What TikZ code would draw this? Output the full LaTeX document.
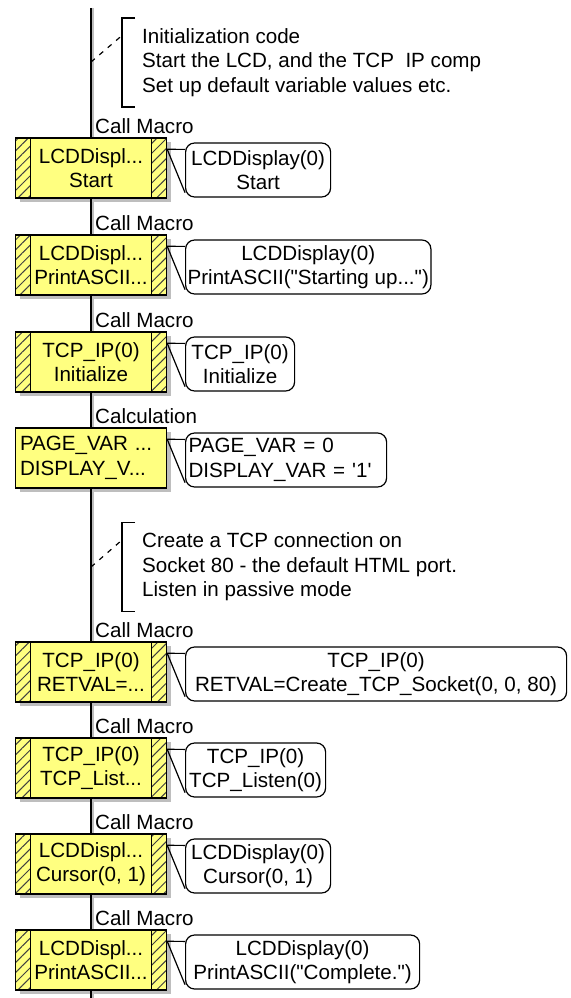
\documentclass[tikz,border=0pt]{standalone}
\usepackage{fontspec}
\setmainfont{Liberation Sans}
\usepackage{tikz}
\usetikzlibrary{patterns.meta,shadows}
\definecolor{boxyellow}{RGB}{255,255,128}
\definecolor{shadowgray}{RGB}{190,190,190}

\begin{document}
\begin{tikzpicture}[x=1pt,y=-1pt,font=\fontsize{20.6}{24.5}\selectfont]
 \tikzset{block/.style = {shape=rectangle,draw,line width=1.4pt,fill=boxyellow,minimum width=151pt,minimum height=60pt,inner sep=0pt,align=center,drop shadow={shadow xshift=4pt,shadow yshift=-4pt,fill=shadowgray,opacity=1}}}
 \tikzset{hatch/.style = {pattern={Lines[angle=45,distance=7pt,line width=1pt]},pattern color=black!75}}
 \tikzset{macro/.style = {block,path picture={
   \fill[hatch] (path picture bounding box.north west) rectangle ([xshift=15pt]path picture bounding box.south west);
   \fill[hatch] (path picture bounding box.north east) rectangle ([xshift=-15pt]path picture bounding box.south east);
   \draw[line width=1.2pt] ([xshift=15pt]path picture bounding box.north west) -- ([xshift=15pt]path picture bounding box.south west);
   \draw[line width=1.2pt] ([xshift=-15pt]path picture bounding box.north east) -- ([xshift=-15pt]path picture bounding box.south east);}}}
 \tikzset{calc/.style = {block,align=left,text width=142pt,inner xsep=4.5pt}}
 \tikzset{bubble/.style = {shape=rectangle,draw,rounded corners=9pt,line width=1.2pt,minimum height=54pt,inner xsep=2pt,align=center,anchor=west}}
 \tikzset{kind/.style = {anchor=west,inner sep=0pt}}
 \tikzset{note/.style = {anchor=west,inner sep=0pt,align=left}}
 \tikzset{flow/.style = {line width=1.6pt,preaction={draw=shadowgray,line width=2pt,transform canvas={xshift=2pt}}}}
 \tikzset{tail/.style = {line width=1.2pt}}
 \tikzset{bracket/.style = {line width=1.2pt}}
 \tikzset{leader/.style = {line width=1.2pt,dash pattern=on 5pt off 6pt}}

 \useasboundingbox (0,0) rectangle (570,998);

 % comments
 \node[note] (n1) at (142,62.5) {Initialization code\\Start the LCD, and the TCP\ \ IP comp\\Set up default variable values etc.};
 \node[note] (n2) at (142,567) {Create a TCP connection on\\Socket 80 - the default HTML port.\\Listen in passive mode};

 % blocks
 \node[kind] (l1) at (95,126) {Call Macro};
 \node[macro] (b1) at (91,168) {LCDDispl...\\Start};
 \node[bubble,minimum width=145pt] (c1) at (185,170) {LCDDisplay(0)\\Start};

 \node[kind] (l2) at (95,223) {Call Macro};
 \node[macro] (b2) at (91,265) {LCDDispl...\\PrintASCII...};
 \node[bubble,minimum width=229pt] (c2) at (185,267) {LCDDisplay(0)\\PrintASCII(\textquotedbl Starting up...\textquotedbl)};

 \node[kind] (l3) at (95,320) {Call Macro};
 \node[macro] (b3) at (91,362) {TCP\_IP(0)\\Initialize};
 \node[bubble,minimum width=109pt] (c3) at (185,364) {TCP\_IP(0)\\Initialize};

 \node[kind] (l4) at (95,416) {Calculation};
 \node[calc] (b4) at (91,458) {PAGE\_VAR ...\\DISPLAY\_V...};
 \node[bubble,align=left,text width=195pt,inner xsep=3pt] (c4) at (185,460) {PAGE\_VAR = 0\\DISPLAY\_VAR = \textquotesingle 1\textquotesingle};

 \node[kind] (l5) at (95,630) {Call Macro};
 \node[macro] (b5) at (91,672) {TCP\_IP(0)\\RETVAL=...};
 \node[bubble,minimum width=381pt] (c5) at (185,674) {TCP\_IP(0)\\RETVAL=Create\_TCP\_Socket(0, 0, 80)};

 \node[kind] (l6) at (95,726) {Call Macro};
 \node[macro] (b6) at (91,768) {TCP\_IP(0)\\TCP\_List...};
 \node[bubble,minimum width=140pt] (c6) at (185,770) {TCP\_IP(0)\\TCP\_Listen(0)};

 \node[kind] (l7) at (95,822) {Call Macro};
 \node[macro] (b7) at (91,864) {LCDDispl...\\Cursor(0, 1)};
 \node[bubble,minimum width=145pt] (c7) at (185,866) {LCDDisplay(0)\\Cursor(0, 1)};

 \node[kind] (l8) at (95,918) {Call Macro};
 \node[macro] (b8) at (91,960) {LCDDispl...\\PrintASCII...};
 \node[bubble,minimum width=234pt] (c8) at (185,962) {LCDDisplay(0)\\PrintASCII(\textquotedbl Complete.\textquotedbl)};

 % flow line
 \coordinate (top) at (91,8);
 \coordinate (bottom) at (91,998);
 \draw[flow] (top) -- (b1.north);
 \draw[flow] (b1.south) -- (b2.north);
 \draw[flow] (b2.south) -- (b3.north);
 \draw[flow] (b3.south) -- (b4.north);
 \draw[flow] (b4.south) -- (b5.north);
 \draw[flow] (b5.south) -- (b6.north);
 \draw[flow] (b6.south) -- (b7.north);
 \draw[flow] (b7.south) -- (b8.north);
 \draw[flow] (b8.south) -- (bottom);

 % bubble tails
 \draw[tail] ([yshift=-7pt]c1.north west) -- ([yshift=-12pt]b1.north east) -- ([yshift=5pt]c1.south west);
 \draw[tail] ([yshift=-7pt]c2.north west) -- ([yshift=-12pt]b2.north east) -- ([yshift=5pt]c2.south west);
 \draw[tail] ([yshift=-7pt]c3.north west) -- ([yshift=-12pt]b3.north east) -- ([yshift=5pt]c3.south west);
 \draw[tail] ([yshift=-7pt]c4.north west) -- ([yshift=-12pt]b4.north east) -- ([yshift=5pt]c4.south west);
 \draw[tail] ([yshift=-7pt]c5.north west) -- ([yshift=-12pt]b5.north east) -- ([yshift=5pt]c5.south west);
 \draw[tail] ([yshift=-7pt]c6.north west) -- ([yshift=-12pt]b6.north east) -- ([yshift=5pt]c6.south west);
 \draw[tail] ([yshift=-7pt]c7.north west) -- ([yshift=-12pt]b7.north east) -- ([yshift=5pt]c7.south west);
 \draw[tail] ([yshift=-7pt]c8.north west) -- ([yshift=-12pt]b8.north east) -- ([yshift=5pt]c8.south west);

 % comment brackets
 \coordinate (k1) at (91,62);
 \coordinate (k2) at (91,567);
 \draw[bracket] ([xshift=-7pt,yshift=44.5pt]n1.west) -- ++(-13pt,0pt) -- ++(0pt,-89pt) -- ++(13pt,0pt);
 \draw[bracket] ([xshift=-7pt,yshift=44.5pt]n2.west) -- ++(-13pt,0pt) -- ++(0pt,-89pt) -- ++(13pt,0pt);
 \draw[leader] (k1) -- ([xshift=-20pt,yshift=27pt]n1.west);
 \draw[leader] (k2) -- ([xshift=-20pt,yshift=27pt]n2.west);
\end{tikzpicture}
\end{document}
